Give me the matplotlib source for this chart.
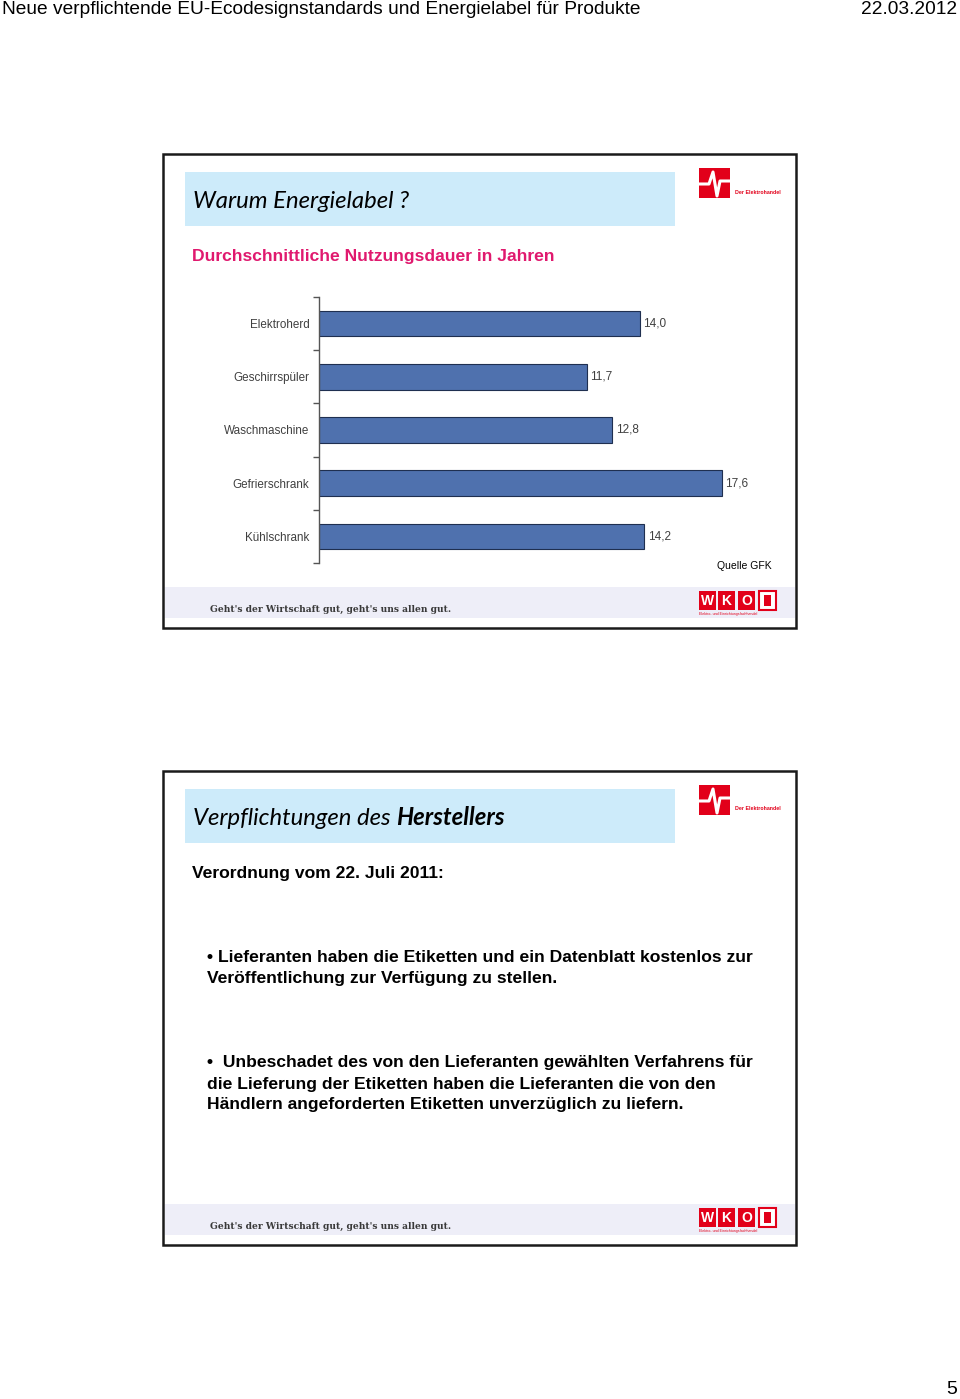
import matplotlib
matplotlib.use("Agg")
import matplotlib.pyplot as plt
from matplotlib.patches import Rectangle
from matplotlib.lines import Line2D

# Daten
categories = ['Elektroherd', 'Geschirrspüler', 'Waschmaschine', 'Gefrierschrank', 'Kühlschrank']
values = [14.0, 11.7, 12.8, 17.6, 14.2]
value_labels = [f"{v:.1f}".replace('.', ',') for v in values]

header_left = "Neue verpflichtende EU-Ecodesignstandards und Energielabel für Produkte"
header_right = "22.03.2012"
slide1_title = "Warum Energielabel ?"
slide1_subtitle = "Durchschnittliche Nutzungsdauer in Jahren"
source = "Quelle GFK"
slogan = "Geht's der Wirtschaft gut, geht's uns allen gut."
slide2_title = ["Verpflichtungen des ", "Herstellers"]
slide2_sub = "Verordnung vom 22. Juli 2011:"
bullet1 = ["• Lieferanten haben die Etiketten und ein Datenblatt kostenlos zur",
           "Veröffentlichung zur Verfügung zu stellen."]
bullet2 = ["•  Unbeschadet des von den Lieferanten gewählten Verfahrens für",
           "die Lieferung der Etiketten haben die Lieferanten die von den",
           "Händlern angeforderten Etiketten unverzüglich zu liefern."]

W, H = 960, 1399
fig = plt.figure(figsize=(W / 100, H / 100), dpi=100)
fig.patch.set_facecolor('white')


def fx(x):
    return x / W


def fy(y):
    return 1 - y / H


def rect(x0, y0, x1, y1, **kw):
    fig.patches.append(Rectangle((fx(x0), fy(y1)), (x1 - x0) / W, (y1 - y0) / H,
                                 transform=fig.transFigure, **kw))


def txt(x, y, s, **kw):
    kw.setdefault('va', 'center')
    kw.setdefault('family', 'Liberation Sans')
    return fig.text(fx(x), fy(y), s, **kw)


RED = '#E2001A'

# Kopfzeile
txt(2, 10, header_left, fontsize=13.75, color='black')
txt(957, 10, header_right, fontsize=13.75, color='black', ha='right')
txt(957, 1390, "5", fontsize=14, color='black', ha='right')


def logo_top(oy):
    rect(699, oy, 730, oy + 30, facecolor=RED, edgecolor='none')
    xs = [699, 709, 713, 717, 720, 730]
    ys = [oy + 16, oy + 16, oy + 4, oy + 28, oy + 13, oy + 13]
    fig.lines.append(Line2D([fx(v) for v in xs], [fy(v) for v in ys],
                            transform=fig.transFigure, color='white', lw=2.2))
    txt(735, oy + 24, "Der Elektrohandel", fontsize=3.8, color=RED, weight='bold')


def footer(oy):
    rect(165, oy, 795, oy + 31, facecolor='#EEEEF8', edgecolor='none')
    txt(210, oy + 22, slogan, fontsize=6.6, color='#3a3a3a', weight='heavy',
        family='DejaVu Serif')
    letters = ['W', 'K', 'O']
    for i, lx in enumerate([699, 718, 738]):
        rect(lx, oy + 4, lx + 17, oy + 23, facecolor=RED, edgecolor='none')
        txt(lx + 8.5, oy + 14, letters[i], fontsize=10, color='white', weight='bold',
            ha='center')
    rect(759, oy + 4, 776, oy + 23, facecolor='white', edgecolor=RED, lw=1.5)
    rect(764, oy + 8, 771, oy + 19, facecolor=RED, edgecolor='none')
    txt(699, oy + 27, "Elektro- und Einrichtungsfachhandel", fontsize=2.6, color=RED)


def slide_frame(oy):
    rect(163, oy, 796, oy + 474, facecolor='white', edgecolor='#1a1a1a', lw=1.8)
    rect(185, oy + 18, 675, oy + 72, facecolor='#CDEBFA', edgecolor='none')
    logo_top(oy + 14)
    footer(oy + 433)


# Folie 1
slide_frame(154)
txt(193, 201, slide1_title, fontsize=17.2, style='italic', family='Lato', color='black')
txt(192, 256, slide1_subtitle, fontsize=12.6, weight='bold', color='#E0196E')
txt(772, 566, source, fontsize=7.5, color='black', ha='right')

ax = fig.add_axes([fx(319), fy(563), (777 - 319) / W, (563 - 297) / H])
ax.set_zorder(10)
ax.set_facecolor('none')
pos = list(range(len(categories)))
ax.barh(pos, values, height=0.48, color='#4F71AE', edgecolor='#1F2F50', lw=0.8)
for p, v, lab in zip(pos, values, value_labels):
    ax.text(v + 0.15, p, lab, va='center', ha='left', fontsize=8.5,
            color='#404040', family='Liberation Sans')
ax.set_xlim(0, 20)
ax.set_ylim(len(categories) - 0.5, -0.5)
ax.set_yticks(pos)
ax.set_yticklabels(categories, fontsize=8.4, color='#404040', family='Liberation Sans')
ax.set_yticks([p - 0.5 for p in pos] + [len(categories) - 0.5], minor=True)
ax.tick_params(axis='y', which='major', length=0, pad=7)
ax.tick_params(axis='y', which='minor', length=4, color='#555555', width=1)
ax.set_xticks([])
for s in ['top', 'right', 'bottom']:
    ax.spines[s].set_visible(False)
ax.spines['left'].set_color('#555555')
ax.spines['left'].set_linewidth(1)

# Folie 2
slide_frame(771)
t1 = txt(193, 825, slide2_title[0], fontsize=17.2, style='italic', family='Lato',
         color='black', va='baseline')
fig.canvas.draw()
bb = t1.get_window_extent()
fig.text(bb.x1 / W, fy(825), slide2_title[1], fontsize=17.2, style='italic', weight='bold',
         family='Lato', color='black', va='baseline')
txt(192, 873, slide2_sub, fontsize=12.6, weight='bold', color='black')
for i, line in enumerate(bullet1):
    txt(207, 958 + 21 * i, line, fontsize=12.6, weight='bold', color='black')
for i, line in enumerate(bullet2):
    txt(207, 1063 + 21 * i, line, fontsize=12.6, weight='bold', color='black')

fig.savefig("out.png", dpi=100)
